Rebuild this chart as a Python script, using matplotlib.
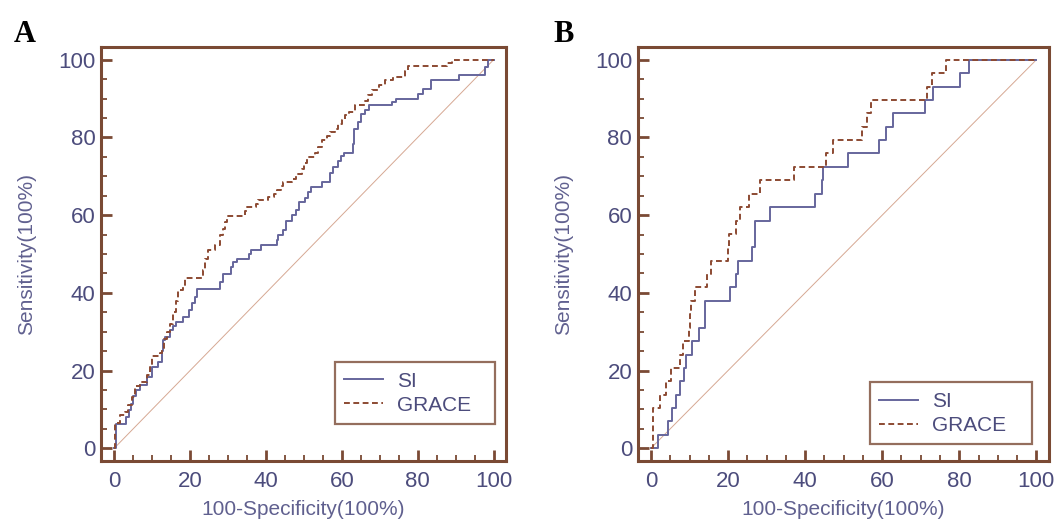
import matplotlib
matplotlib.use("Agg")
import matplotlib.pyplot as plt
from matplotlib.ticker import MultipleLocator

# ---------------- data ----------------
# Panel A: ROC step points (x = 100-Specificity, y = Sensitivity), steps-post
a_si_x = [0, 0.4, 3.2, 3.8, 4.4, 5.0, 5.6, 6.8, 8.5, 9.9, 11.6, 12.5, 12.9, 13.4, 14.7,
          15.6, 16.4, 18.2, 19.8, 20.4, 21.3, 21.9, 27.9, 28.6, 30.8, 31.4, 32.4, 35.4,
          36.0, 38.7, 42.8, 43.3, 44.6, 45.3, 46.8, 48.0, 48.8, 50.3, 51.0, 52.0, 54.7,
          56.9, 57.6, 59.1, 59.8, 60.6, 62.9, 63.2, 64.2, 65.0, 66.0, 67.2, 73.2, 74.2,
          80.2, 81.5, 83.5, 90.8, 97.8, 98.5, 100]
a_si_y = [0, 6.3, 8.0, 9.9, 11.5, 13.5, 15.0, 16.3, 18.4, 21.0, 22.3, 25.0, 27.8, 28.7, 30.4,
          31.5, 32.6, 33.8, 35.5, 37.3, 39.0, 41.1, 42.8, 44.8, 46.7, 48.0, 48.8, 50.0,
          51.0, 52.3, 53.5, 54.8, 56.1, 58.5, 60.0, 61.3, 63.4, 64.5, 66.0, 67.3, 68.6,
          70.9, 72.4, 74.0, 75.2, 76.0, 78.4, 82.3, 84.0, 86.1, 87.0, 88.3, 89.1, 89.8,
          91.3, 92.5, 94.9, 96.0, 98.1, 100, 100]

a_grace_x = [0, 0.1, 0.3, 1.5, 2.8, 3.7, 4.6, 5.5, 6.8, 8.5, 9.4, 9.9, 12.0, 12.5, 13.2,
             13.8, 14.7, 15.6, 16.2, 16.9, 18.0, 18.6, 23.4, 23.9, 24.8, 26.6, 27.9, 28.6,
             29.2, 29.8, 34.5, 34.9, 37.5, 38.0, 40.6, 42.0, 42.8, 44.0, 44.6, 46.8, 48.0,
             49.4, 50.0, 50.7, 53.0, 53.8, 54.7, 56.0, 56.9, 58.3, 59.1, 60.0, 60.9, 62.0,
             63.5, 66.1, 66.8, 67.9, 69.7, 71.4, 73.6, 76.7, 77.5, 87.7, 89.0, 100]
a_grace_y = [0, 3.9, 6.4, 8.6, 9.4, 11.1, 13.3, 15.9, 17.1, 18.9, 21.0, 23.7, 24.5, 25.7, 28.0,
             30.0, 32.1, 35.1, 38.0, 40.7, 42.0, 43.7, 46.0, 48.8, 51.0, 52.3, 54.8, 56.5,
             58.3, 59.7, 61.0, 62.1, 63.0, 63.8, 64.7, 65.5, 66.4, 67.5, 68.6, 69.4, 70.5,
             72.0, 73.5, 75.0, 76.0, 77.5, 79.3, 80.5, 81.4, 82.3, 83.5, 84.5, 85.7, 86.5,
             88.3, 89.5, 91.0, 92.1, 93.4, 94.9, 95.7, 97.0, 98.5, 99.2, 100, 100]

# Panel B
b_si_x = [0, 1.7, 4.3, 5.4, 6.5, 7.5, 8.6, 9.2, 10.6, 12.5, 14.0, 20.5, 22.0, 22.5, 26.3,
          27.0, 30.9, 42.6, 44.3, 44.7, 51.0, 59.2, 61.0, 62.9, 71.1, 73.3, 80.3, 82.6, 100]
b_si_y = [0, 3.4, 6.9, 10.3, 13.8, 17.2, 20.7, 24.1, 27.6, 31.0, 37.9, 41.4, 44.8, 48.3, 51.7,
          58.6, 62.1, 65.5, 69.0, 72.4, 75.9, 79.3, 82.8, 86.2, 89.7, 93.1, 96.6, 100, 100]

b_grace_x = [0, 0.5, 2.2, 3.8, 5.2, 7.6, 8.2, 9.9, 10.2, 10.5, 11.4, 14.6, 15.6, 20.0, 20.2,
             22.0, 23.0, 25.5, 28.2, 37.0, 45.5, 47.2, 54.8, 56.0, 57.2, 71.5, 72.8, 76.5, 100]
b_grace_y = [0, 10.3, 13.8, 17.2, 20.7, 24.1, 27.6, 31.0, 34.5, 37.9, 41.4, 44.8, 48.3, 51.7, 55.2,
             58.6, 62.1, 65.5, 69.0, 72.4, 75.9, 79.3, 82.8, 86.2, 89.7, 93.1, 96.6, 100, 100]

ref_line = [0, 100]
ticks = [0, 20, 40, 60, 80, 100]
series_names = ["SI", "GRACE"]
panel_labels = ["A", "B"]
x_label = "100-Specificity(100%)"
y_label = "Sensitivity(100%)"

# ---------------- style ----------------
FRAME = "#7a4a34"
SI_C = "#66669c"
GR_C = "#8c4a32"
DIAG = "#d6a893"
TXT = "#4c4c7c"
LAB = "#60608f"

plt.rcParams["font.family"] = ["Liberation Sans", "DejaVu Sans"]

fig = plt.figure(figsize=(10.62, 5.25), dpi=100)
axA = fig.add_axes([0.0951, 0.1219, 0.3814, 0.7886])
axB = fig.add_axes([0.6005, 0.1219, 0.3873, 0.7886])

panels = [
    (axA, a_si_x, a_si_y, a_grace_x, a_grace_y, (-3.5, 103.3), (0.578, 0.089, 0.395, 0.15)),
    (axB, b_si_x, b_si_y, b_grace_x, b_grace_y, (-3.45, 103.3), (0.565, 0.040, 0.394, 0.15)),
]

for ax, sx, sy, gx, gy, xl, legpos in panels:
    ax.plot(ref_line, ref_line, color=DIAG, lw=0.7, zorder=1)
    ax.plot(sx, sy, color=SI_C, lw=1.4, drawstyle="steps-post", label=series_names[0], zorder=3)
    ax.plot(gx, gy, color=GR_C, lw=1.4, ls=(0, (3, 1.8)), drawstyle="steps-post",
            label=series_names[1], zorder=3)
    ax.set_xlim(*xl)
    ax.set_ylim(-3.3, 103.3)
    ax.set_xticks(ticks)
    ax.set_yticks(ticks)
    ax.xaxis.set_minor_locator(MultipleLocator(5))
    ax.yaxis.set_minor_locator(MultipleLocator(5))
    ax.tick_params(which="major", direction="in", length=8, width=2.0, color=FRAME,
                   labelsize=16, labelcolor=TXT)
    ax.tick_params(axis="x", which="major", pad=7)
    ax.tick_params(axis="y", which="major", pad=4)
    ax.tick_params(which="minor", direction="in", length=4.5, width=1.3, color=FRAME)
    for s in ax.spines.values():
        s.set_color(FRAME)
        s.set_linewidth(2.2)
    ax.set_xlabel(x_label, fontsize=15, color=LAB, labelpad=6)
    ax.set_ylabel(y_label, fontsize=15, color=LAB, labelpad=16)
    leg = ax.legend(loc="lower left", bbox_to_anchor=legpos, mode="expand",
                    fontsize=15, frameon=True, fancybox=False, handlelength=1.85,
                    handletextpad=0.65, borderpad=0.45, labelspacing=0.25, borderaxespad=0)
    leg.get_frame().set_edgecolor(FRAME)
    leg.get_frame().set_linewidth(1.6)
    for t in leg.get_texts():
        t.set_color(TXT)

fig.text(0.013, 0.962, panel_labels[0], fontsize=22, fontweight="bold",
         family="Liberation Serif", va="top", ha="left", color="black")
fig.text(0.521, 0.962, panel_labels[1], fontsize=22, fontweight="bold",
         family="Liberation Serif", va="top", ha="left", color="black")

fig.savefig("out.png", dpi=100)
